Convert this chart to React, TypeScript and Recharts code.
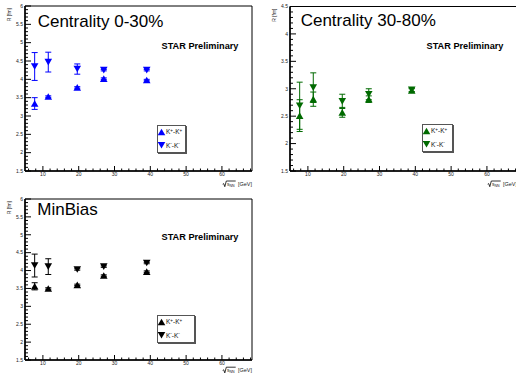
import React from "react";
import { ScatterChart, Scatter, XAxis, YAxis, ErrorBar, ReferenceArea, Legend, Label } from "recharts";

const FONT = '"Liberation Sans", Arial, Helvetica, sans-serif';

// beam energies sqrt(s_NN) [GeV]
const energies = [7.7, 11.5, 19.6, 27, 39];

// Centrality 0-30%
const central_kpkp = [3.34, 3.53, 3.78, 4.02, 3.98];
const central_kpkp_err = [0.16, 0.02, 0.02, 0.02, 0.02];
const central_kmkm = [4.35, 4.47, 4.28, 4.25, 4.25];
const central_kmkm_err = [0.38, 0.27, 0.14, 0.02, 0.02];

// Centrality 30-80%
const periph_kpkp = [2.51, 2.81, 2.57, 2.81, 2.97];
const periph_kpkp_err = [0.29, 0.13, 0.09, 0.06, 0.03];
const periph_kmkm = [2.69, 3.02, 2.77, 2.9, 2.98];
const periph_kmkm_err = [0.43, 0.27, 0.13, 0.1, 0.03];

// MinBias
const minbias_kpkp = [3.56, 3.5, 3.6, 3.86, 3.97];
const minbias_kpkp_err = [0.1, 0.02, 0.02, 0.02, 0.02];
const minbias_kmkm = [4.14, 4.11, 4.03, 4.11, 4.21];
const minbias_kmkm_err = [0.32, 0.22, 0.02, 0.02, 0.02];

const xDomain: [number, number] = [5, 68.4];
const xMajorTicks = [10, 20, 30, 40, 50, 60];

const xTicks: number[] = [];
for (let v = 6; v <= 68; v += 2) xTicks.push(v);

function yTicksFor(lo: number, hi: number) {
  const t: number[] = [];
  for (let n = Math.round(lo * 10); n <= Math.round(hi * 10); n++) t.push(n / 10);
  return t;
}

function rows(ys: number[], errs: number[]) {
  return energies.map((e, i) => ({ x: e, y: ys[i], err: errs[i] }));
}

function XTick(props: any) {
  const { x, y, payload } = props;
  const v = payload.value;
  const major = xMajorTicks.includes(v);
  return (
    <g>
      <line x1={x} x2={x} y1={y} y2={y - (major ? 5 : 2.5)} stroke="#000" strokeWidth={1} />
      {major && (
        <text x={x} y={y + 5.2} textAnchor="middle" fontSize={5} fontFamily={FONT} fill="#222">
          {v}
        </text>
      )}
    </g>
  );
}

function YTick(props: any) {
  const { x, y, payload } = props;
  const v = payload.value;
  const major = Math.round(v * 10) % 5 === 0;
  return (
    <g>
      <line x1={x} x2={x + (major ? 6 : 3)} y1={y} y2={y} stroke="#000" strokeWidth={1} />
      {major && (
        <text x={x - 2} y={y + 1.8} textAnchor="end" fontSize={5} fontFamily={FONT} fill="#222">
          {v}
        </text>
      )}
    </g>
  );
}

function triangle(dir: 1 | -1, color: string) {
  return (props: any) => {
    const { cx, cy } = props;
    const w = 3.8;
    const h = 3.3 * dir;
    return <polygon points={`${cx - w},${cy + h} ${cx + w},${cy + h} ${cx},${cy - h}`} fill={color} />;
  };
}

function YTitle(props: any) {
  const { viewBox } = props;
  const x = viewBox.x + 10.5;
  const y = viewBox.y + 2;
  return (
    <text x={x} y={y} transform={`rotate(-90 ${x} ${y})`} textAnchor="end" fontSize={5} fontFamily={FONT} fill="#222">
      R [fm]
    </text>
  );
}

function XTitle(props: any) {
  const { viewBox, dy } = props;
  const r = viewBox.x + viewBox.width;
  const b = viewBox.y + dy - 14.8;
  return (
    <g>
      <path
        d={`M${r - 29.3},${b + 13.2} L${r - 28.3},${b + 12.6} L${r - 27.2},${b + 15.7} L${r - 25.7},${b + 10} L${r - 16.3},${b + 10}`}
        fill="none"
        stroke="#000"
        strokeWidth={0.8}
      />
      <text x={r - 25} y={b + 14.8} fontSize={5} fontFamily={FONT} fill="#222">
        s
        <tspan fontSize={3.5} dy={1}>
          NN
        </tspan>
      </text>
      <text x={r} y={b + 14.8} textAnchor="end" fontSize={5.5} fontFamily={FONT} fill="#222">
        [GeV]
      </text>
    </g>
  );
}

function LegendBox({ color, width }: { color: string; width: number }) {
  const up = triangle(1, color);
  const down = triangle(-1, color);
  return (
    <div style={{ width, height: 28, border: "1px solid #555", boxShadow: "1px 1px 0 #555", background: "#fff", boxSizing: "border-box" }}>
      <svg width={width - 2} height={26} style={{ display: "block" }}>
        {up({ cx: 3.5, cy: 6 })}
        <text x={8} y={8.4} fontSize={6.5} fontFamily={FONT} fill="#111">
          K<tspan fontSize={4.5} dy={-2.5}>+</tspan>
          <tspan dy={2.5}>-K</tspan>
          <tspan fontSize={4.5} dy={-2.5}>+</tspan>
        </text>
        {down({ cx: 3.5, cy: 19.2 })}
        <text x={8} y={21.6} fontSize={6.5} fontFamily={FONT} fill="#111">
          K<tspan fontSize={4.5} dy={-2.5}>-</tspan>
          <tspan dy={2.5}>-K</tspan>
          <tspan fontSize={4.5} dy={-2.5}>-</tspan>
        </text>
      </svg>
    </div>
  );
}

type PanelProps = {
  left: number;
  top: number;
  height: number;
  marginTop: number;
  xAxisHeight: number;
  xTitleDy: number;
  yDomain: [number, number];
  color: string;
  title: string;
  titleX: number;
  titleY: number;
  starY: number;
  legendTop: number;
  legendWidth: number;
  kp: { x: number; y: number; err: number }[];
  km: { x: number; y: number; err: number }[];
};

function Panel(p: PanelProps) {
  const width = 258;
  return (
    <div style={{ position: "absolute", left: p.left, top: p.top, width, height: p.height }}>
      <ScatterChart width={width} height={p.height} margin={{ top: p.marginTop, right: 6, bottom: 0, left: 0 }}>
        <XAxis
          type="number"
          dataKey="x"
          domain={xDomain}
          ticks={xTicks}
          interval={0}
          allowDataOverflow
          height={p.xAxisHeight}
          tickSize={0}
          tickMargin={0}
          tickLine={false}
          tick={<XTick />}
          axisLine={{ stroke: "#000", strokeWidth: 1.5 }}
        >
          <Label content={<XTitle dy={p.xTitleDy} />} />
        </XAxis>
        <YAxis
          type="number"
          dataKey="y"
          domain={p.yDomain}
          ticks={yTicksFor(p.yDomain[0], p.yDomain[1])}
          interval={0}
          allowDataOverflow
          width={25}
          tickSize={0}
          tickMargin={0}
          tickLine={false}
          tick={<YTick />}
          axisLine={{ stroke: "#000", strokeWidth: 1.5 }}
        >
          <Label content={<YTitle />} />
        </YAxis>
        <ReferenceArea x1={xDomain[0]} x2={xDomain[1]} y1={p.yDomain[0]} y2={p.yDomain[1]} fill="none" stroke="#000" strokeWidth={1} />
        <Scatter data={p.kp} shape={triangle(1, p.color)} isAnimationActive={false}>
          <ErrorBar dataKey="err" direction="y" width={3} stroke={p.color} strokeWidth={1} />
        </Scatter>
        <Scatter data={p.km} shape={triangle(-1, p.color)} isAnimationActive={false}>
          <ErrorBar dataKey="err" direction="y" width={3} stroke={p.color} strokeWidth={1} />
        </Scatter>
        <Legend
          layout="horizontal"
          verticalAlign="middle"
          align="center"
          width={p.legendWidth}
          height={28}
          wrapperStyle={{ left: 157, top: p.legendTop, width: p.legendWidth, height: 28 }}
          content={() => <LegendBox color={p.color} width={p.legendWidth} />}
        />
      </ScatterChart>
      <svg width={width} height={p.height} style={{ position: "absolute", left: 0, top: 0, pointerEvents: "none" }}>
        <text x={p.titleX} y={p.titleY} fontSize={17} fontFamily={FONT} fill="#000">
          {p.title}
        </text>
        <text x={161.5} y={p.starY} fontSize={9.2} fontWeight="bold" fontFamily={FONT} fill="#000">
          STAR Preliminary
        </text>
      </svg>
    </div>
  );
}

export default function App() {
  return (
    <div style={{ position: "absolute", left: 0, top: 0, width: 516, height: 374, overflow: "hidden", background: "#fff" }}>
      <Panel
        left={0}
        top={0}
        height={190}
        marginTop={6}
        xAxisHeight={19}
        xTitleDy={14.8}
        yDomain={[1.5, 6]}
        color="#0000ff"
        title="Centrality 0-30%"
        titleX={37.7}
        titleY={27.3}
        starY={49}
        legendTop={125}
        legendWidth={29}
        kp={rows(central_kpkp, central_kpkp_err)}
        km={rows(central_kmkm, central_kmkm_err)}
      />
      <Panel
        left={265}
        top={0}
        height={190}
        marginTop={6.5}
        xAxisHeight={19}
        xTitleDy={14.8}
        yDomain={[1.5, 4.5]}
        color="#006a00"
        title="Centrality 30-80%"
        titleX={35.7}
        titleY={26}
        starY={49}
        legendTop={124}
        legendWidth={31}
        kp={rows(periph_kpkp, periph_kpkp_err)}
        km={rows(periph_kmkm, periph_kmkm_err)}
      />
      <Panel
        left={0}
        top={186}
        height={188}
        marginTop={13}
        xAxisHeight={14}
        xTitleDy={12}
        yDomain={[1.5, 6]}
        color="#000000"
        title="MinBias"
        titleX={37.3}
        titleY={29}
        starY={54}
        legendTop={129}
        legendWidth={38}
        kp={rows(minbias_kpkp, minbias_kpkp_err)}
        km={rows(minbias_kmkm, minbias_kmkm_err)}
      />
    </div>
  );
}
